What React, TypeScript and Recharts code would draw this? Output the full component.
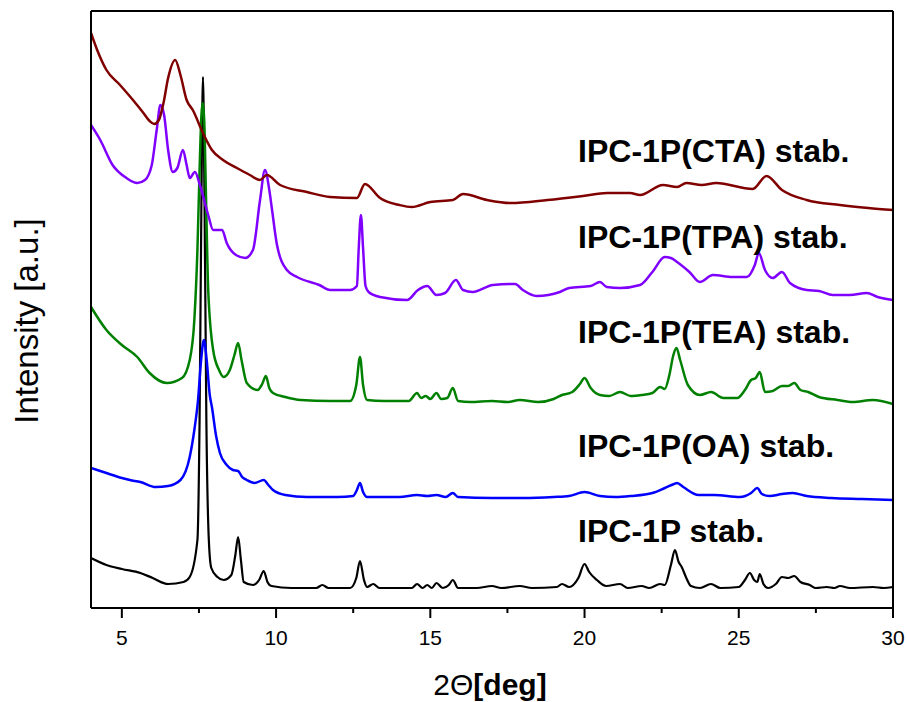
import React from 'react';
import { LineChart, Line, XAxis, YAxis, ReferenceDot } from 'recharts';

const FONT = '"Liberation Sans", Arial, Helvetica, sans-serif';

// 2θ (deg) , intensity (a.u., offset-stacked as in the figure)
const ipc1p: [number, number][] = [
  [4.0, 50], [4.5, 43], [5.0, 39], [5.6, 35], [6.0, 30], [6.5, 24], [7.0, 26], [7.2, 31], [7.45, 68], [7.52, 188],
  [7.58, 408], [7.63, 531], [7.68, 408], [7.74, 188], [7.82, 68], [7.9, 40], [8.1, 31], [8.3, 28], [8.55, 33], [8.68, 53],
  [8.77, 71], [8.86, 48], [8.95, 26], [9.25, 23], [9.45, 28], [9.6, 37], [9.72, 26], [9.85, 22], [10.5, 20], [11.3, 20],
  [11.5, 23], [11.7, 20], [12.4, 20], [12.6, 30], [12.72, 47], [12.85, 28], [12.95, 21], [13.15, 24], [13.35, 20], [14.4, 20],
  [14.57, 24], [14.75, 20], [14.9, 23], [15.05, 20], [15.2, 25], [15.4, 20], [15.6, 23], [15.73, 28], [15.9, 20], [16.5, 20],
  [17.0, 22], [17.3, 20], [17.9, 22], [18.3, 20], [19.1, 21], [19.27, 24], [19.5, 21], [19.8, 30], [20.0, 44], [20.15, 36],
  [20.4, 28], [20.7, 22], [21.15, 24], [21.4, 20], [21.85, 22], [22.1, 20], [22.45, 24], [22.6, 23], [22.8, 43], [22.93, 58],
  [23.05, 46], [23.15, 41], [23.3, 30], [23.45, 22], [23.74, 20], [24.1, 24], [24.4, 20], [25.0, 21], [25.2, 28], [25.36, 35],
  [25.5, 28], [25.6, 26], [25.68, 34], [25.8, 24], [25.95, 20], [26.2, 24], [26.4, 31], [26.6, 30], [26.8, 32], [27.0, 26],
  [27.3, 23], [27.5, 20], [27.85, 21], [28.1, 20], [28.28, 22], [28.6, 20], [29.35, 21], [29.7, 20], [30.0, 21],
];

const ipcOA: [number, number][] = [
  [4.0, 140], [4.5, 135], [5.0, 130], [5.26, 128], [5.6, 126], [6.1, 121], [6.5, 122], [6.9, 128], [7.2, 151], [7.35, 178],
  [7.47, 208], [7.57, 248], [7.66, 268], [7.75, 248], [7.85, 213], [7.92, 201], [8.05, 173], [8.18, 155], [8.4, 143], [8.6, 138],
  [8.77, 137], [8.9, 131], [9.05, 128], [9.3, 125], [9.6, 128], [9.75, 123], [9.9, 118], [10.3, 113], [11.0, 111], [12.0, 111],
  [12.5, 112], [12.62, 118], [12.72, 125], [12.82, 116], [12.95, 111], [14.0, 111], [14.57, 113], [14.9, 112], [15.2, 113], [15.5, 111],
  [15.73, 115], [15.9, 111], [17.0, 110], [18.0, 110], [19.0, 111], [19.5, 112], [20.0, 116], [20.5, 112], [21.0, 111], [21.5, 112],
  [22.2, 115], [22.6, 120], [22.9, 124], [23.0, 125], [23.2, 121], [23.7, 113], [24.2, 113], [25.04, 111], [25.4, 115], [25.6, 120],
  [25.75, 114], [26.0, 112], [26.4, 114], [26.75, 115], [27.2, 112], [28.0, 110], [29.0, 109], [30.0, 108],
];

const ipcTEA: [number, number][] = [
  [4.0, 301], [4.5, 278], [5.0, 263], [5.5, 251], [5.9, 235], [6.46, 225], [6.95, 230], [7.2, 248], [7.35, 288], [7.45, 358],
  [7.52, 438], [7.58, 493], [7.62, 505], [7.67, 488], [7.73, 408], [7.8, 318], [7.96, 258], [8.15, 238], [8.3, 231], [8.5, 238],
  [8.65, 253], [8.77, 265], [8.88, 248], [9.05, 225], [9.4, 218], [9.55, 224], [9.67, 232], [9.78, 220], [9.9, 215], [10.3, 211],
  [10.8, 208], [11.75, 207], [12.4, 207], [12.6, 223], [12.72, 251], [12.82, 223], [12.95, 208], [13.5, 207], [14.3, 207], [14.57, 215],
  [14.7, 210], [14.85, 212], [15.0, 209], [15.2, 215], [15.35, 209], [15.55, 210], [15.73, 220], [15.9, 207], [16.3, 206], [17.0, 207],
  [17.5, 206], [17.9, 208], [18.5, 206], [19.0, 209], [19.27, 213], [19.6, 216], [19.85, 224], [20.0, 230], [20.2, 220], [20.5, 213],
  [20.8, 212], [21.15, 216], [21.5, 212], [21.85, 213], [22.2, 215], [22.45, 221], [22.6, 219], [22.75, 233], [22.88, 253], [22.98, 260],
  [23.1, 248], [23.35, 223], [23.74, 213], [24.1, 216], [24.5, 210], [24.95, 210], [25.2, 218], [25.4, 228], [25.55, 230], [25.68, 236],
  [25.85, 216], [26.1, 217], [26.4, 222], [26.6, 222], [26.8, 225], [27.0, 218], [27.25, 216], [27.6, 211], [28.2, 208], [28.7, 206],
  [29.35, 208], [30.0, 204],
];

const ipcTPA: [number, number][] = [
  [4.0, 483], [4.3, 468], [4.7, 443], [5.15, 430], [5.5, 425], [5.75, 428], [5.97, 443], [6.13, 478], [6.25, 503], [6.37, 493],
  [6.5, 458], [6.65, 436], [6.8, 440], [6.98, 458], [7.1, 443], [7.2, 430], [7.37, 436], [7.53, 423], [7.8, 393], [7.96, 378],
  [8.25, 378], [8.4, 365], [8.7, 353], [9.0, 350], [9.25, 358], [9.48, 408], [9.64, 438], [9.78, 418], [9.87, 398], [10.03, 363],
  [10.35, 338], [10.68, 331], [11.4, 323], [11.75, 318], [12.4, 318], [12.62, 322], [12.68, 360], [12.75, 393], [12.82, 360], [12.9, 322],
  [13.0, 316], [13.37, 311], [14.25, 308], [14.6, 318], [14.9, 322], [15.2, 313], [15.48, 315], [15.83, 328], [16.06, 318], [16.38, 316],
  [17.03, 323], [17.75, 324], [18.0, 318], [18.45, 312], [19.2, 316], [19.5, 320], [20.2, 322], [20.5, 326], [20.72, 321], [21.15, 320],
  [21.8, 323], [22.2, 336], [22.6, 351], [22.8, 350], [23.0, 346], [23.4, 336], [23.74, 326], [24.16, 333], [24.8, 331], [25.26, 331],
  [25.52, 343], [25.65, 355], [25.85, 338], [26.1, 330], [26.4, 336], [26.66, 325], [27.2, 318], [27.6, 317], [28.05, 313], [28.6, 313],
  [29.15, 315], [29.5, 311], [30.0, 308],
];

const ipcCTA: [number, number][] = [
  [4.0, 575], [4.2, 558], [4.5, 538], [4.94, 523], [5.36, 508], [5.7, 495], [5.9, 487], [6.05, 484], [6.2, 488], [6.35, 505],
  [6.5, 530], [6.73, 548], [6.9, 533], [7.1, 508], [7.3, 498], [7.63, 475], [7.92, 458], [8.28, 448], [8.73, 440], [9.15, 433],
  [9.48, 428], [9.7, 433], [10.13, 423], [11.0, 416], [11.75, 411], [12.62, 410], [12.88, 424], [13.37, 410], [14.0, 403], [14.4, 401],
  [15.0, 406], [15.73, 408], [16.06, 414], [16.84, 408], [17.6, 405], [18.8, 408], [19.95, 412], [20.73, 415], [21.47, 415], [21.8, 413],
  [22.54, 423], [23.0, 421], [23.3, 425], [23.8, 423], [24.27, 425], [25.45, 419], [25.9, 432], [26.4, 418], [27.2, 408], [28.28, 403],
  [29.2, 400], [30.0, 398],
];

const seriesNames = ['IPC-1P stab.', 'IPC-1P(OA) stab.', 'IPC-1P(TEA) stab.', 'IPC-1P(TPA) stab.', 'IPC-1P(CTA) stab.'];
const seriesColors = ['#000000', '#0000ff', '#008000', '#8000ff', '#800000'];
const seriesData = [ipc1p, ipcOA, ipcTEA, ipcTPA, ipcCTA];
const labelX = 19.79;
const labelY = [66, 151, 265, 360, 446];

const majorTicks = [5, 10, 15, 20, 25, 30];
const minorTicks = [7.5, 12.5, 17.5, 22.5, 27.5];
const allTicks = [...majorTicks, ...minorTicks].sort((a, b) => a - b);

const toPts = (arr: [number, number][]) => arr.map(([x, v]) => ({ x, v }));

const TICK_SIZE = 10;
const TICK_MARGIN = 8;

const XTick = (props: any) => {
  const { x, y, payload } = props;
  const axisY = y - TICK_SIZE - TICK_MARGIN;
  const major = majorTicks.includes(payload.value);
  return (
    <g>
      <line x1={x} x2={x} y1={axisY} y2={axisY + (major ? 10 : 5)} stroke="#000" strokeWidth={2} />
      {major && (
        <text x={x} y={axisY + 37} textAnchor="middle" fontFamily={FONT} fontSize={21} fill="#000">
          {payload.value}
        </text>
      )}
    </g>
  );
};

const XLabel = () => (
  <text x={490} y={695} textAnchor="middle" fontFamily={FONT} fontSize={30} fill="#000">
    <tspan>2Θ</tspan>
    <tspan fontWeight="bold">[deg]</tspan>
  </text>
);

const YLabel = () => (
  <text
    x={38}
    y={321}
    transform="rotate(-90 38 321)"
    textAnchor="middle"
    fontFamily={FONT}
    fontSize={33}
    fill="#000"
  >
    Intensity [a.u.]
  </text>
);

const makeSeriesLabel = (text: string) => (props: any) => {
  const vb = props.viewBox || {};
  return (
    <text x={vb.x} y={vb.y} textAnchor="start" fontFamily={FONT} fontWeight="bold" fontSize={32} fill="#000">
      {text}
    </text>
  );
};

export default function App() {
  return (
    <div style={{ width: 907, height: 702 }}>
      <style>{`body{margin:0}`}</style>
      <LineChart width={907} height={702} margin={{ top: 10, right: 13, bottom: 34, left: 90 }}>
        <XAxis
          dataKey="x"
          type="number"
          domain={[4, 30]}
          ticks={allTicks}
          interval={0}
          allowDataOverflow
          height={60}
          tickSize={TICK_SIZE}
          tickMargin={TICK_MARGIN}
          tickLine={false}
          axisLine={{ stroke: '#000', strokeWidth: 2 }}
          tick={<XTick />}
          label={{ content: () => <XLabel /> }}
        />
        <XAxis
          xAxisId="top"
          dataKey="x"
          type="number"
          domain={[4, 30]}
          orientation="top"
          height={1}
          tick={false}
          tickLine={false}
          axisLine={{ stroke: '#000', strokeWidth: 2 }}
        />
        <YAxis
          type="number"
          domain={[0, 597]}
          allowDataOverflow
          width={1}
          tick={false}
          tickLine={false}
          axisLine={{ stroke: '#000', strokeWidth: 2 }}
          label={{ content: () => <YLabel /> }}
        />
        <YAxis
          yAxisId="right"
          orientation="right"
          type="number"
          domain={[0, 597]}
          width={1}
          tick={false}
          tickLine={false}
          axisLine={{ stroke: '#000', strokeWidth: 2 }}
        />
        {seriesData.map((d, i) => (
          <Line
            key={seriesNames[i]}
            data={toPts(d)}
            dataKey="v"
            type="monotone"
            stroke={seriesColors[i]}
            strokeWidth={i === 0 ? 2.2 : 2.5}
            dot={false}
            activeDot={false}
            isAnimationActive={false}
          />
        ))}
        {seriesNames.map((name, i) => (
          <ReferenceDot
            key={'lbl' + i}
            x={labelX}
            y={labelY[i]}
            r={0}
            fill="none"
            stroke="none"
            label={makeSeriesLabel(name)}
          />
        ))}
      </LineChart>
    </div>
  );
}
